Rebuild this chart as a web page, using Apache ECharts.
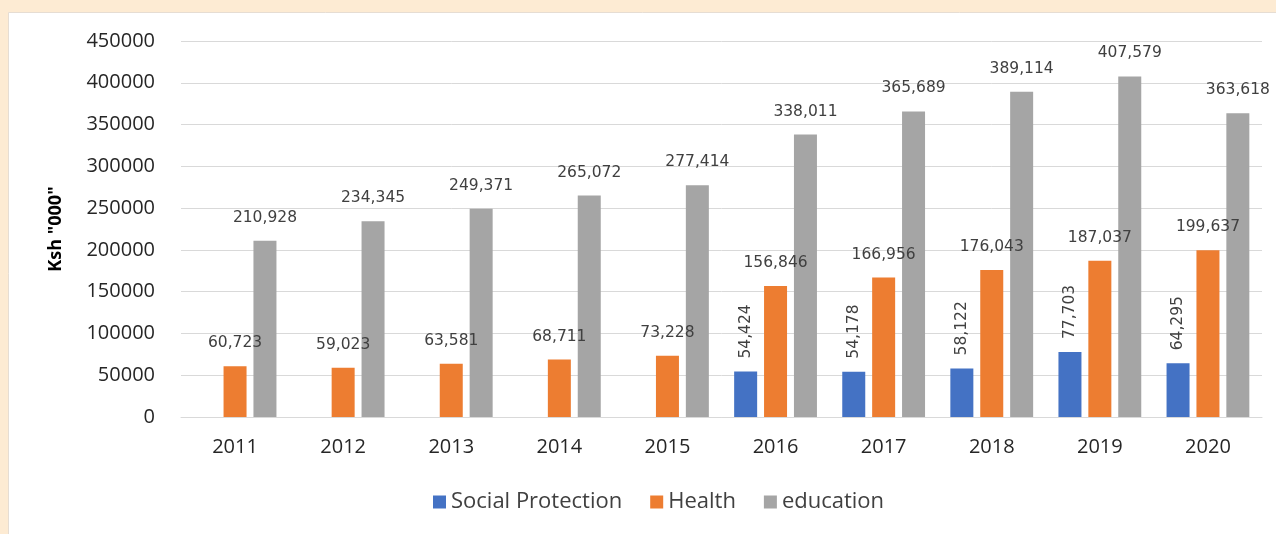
<!DOCTYPE html>
<html><head><meta charset="utf-8">
<script src="https://cdn.jsdelivr.net/npm/echarts@6/dist/echarts.min.js"></script>
<style>html,body{margin:0;padding:0;background:#fdebd3;}#c{width:1276px;height:534px;}</style>
</head><body><div id="c"></div>
<script>
const years = ['2011','2012','2013','2014','2015','2016','2017','2018','2019','2020'];
const socialProtection = [null,null,null,null,null,54424,54178,58122,77703,64295];
const health = [60723,59023,63581,68711,73228,156846,166956,176043,187037,199637];
const education = [210928,234345,249371,265072,277414,338011,365689,389114,407579,363618];
const yTicks = {min:0,max:450000,interval:50000};

const fmt = p => p.value == null ? '' : Number(p.value).toLocaleString('en-US');
const chart = echarts.init(document.getElementById('c'));
const hLabel = {show:true,position:'top',distance:15,formatter:fmt,color:'#404040',fontSize:15.5,fontFamily:'DejaVu Sans'};
chart.setOption({
  backgroundColor:'#fdebd3',
  animation:false,
  graphic:[{type:'rect',left:8,top:12,shape:{width:1268,height:522},style:{fill:'#ffffff',stroke:'#e6ddd3',lineWidth:1},z:-10}],
  grid:{left:181,right:14,top:41,bottom:117},
  legend:{top:486,left:428,itemWidth:13,itemHeight:13,itemGap:28,icon:'rect',
    textStyle:{fontSize:22,color:'#404040',fontFamily:'Open Sans',padding:[0,0,0,0]},
    data:['Social Protection','Health','education']},
  xAxis:{type:'category',data:years,axisTick:{show:false},
    axisLine:{lineStyle:{color:'#d9d9d9'}},
    axisLabel:{fontSize:20,color:'#262626',margin:20,fontFamily:'Open Sans'}},
  yAxis:{type:'value',min:yTicks.min,max:yTicks.max,interval:yTicks.interval,
    name:'Ksh "000"',nameLocation:'middle',nameGap:116,
    nameTextStyle:{fontSize:18,fontWeight:'bold',color:'#000',fontFamily:'Open Sans'},
    axisLabel:{fontSize:20,color:'#262626',margin:26,fontFamily:'Open Sans',formatter:v=>String(v)},
    splitLine:{lineStyle:{color:'#d9d9d9'}}},
  series:[
    {name:'Social Protection',type:'bar',data:socialProtection,barWidth:23,barGap:'30%',barCategoryGap:'23%',
     itemStyle:{color:'#4472c4'},
     label:{show:true,position:'top',rotate:90,align:'left',verticalAlign:'middle',distance:13,formatter:fmt,color:'#404040',fontSize:15.5,fontFamily:'DejaVu Sans'}},
    {name:'Health',type:'bar',data:health,barWidth:23,itemStyle:{color:'#ed7d31'},label:hLabel},
    {name:'education',type:'bar',data:education,barWidth:23,itemStyle:{color:'#a5a5a5'},label:hLabel}
  ]
});
</script></body></html>
